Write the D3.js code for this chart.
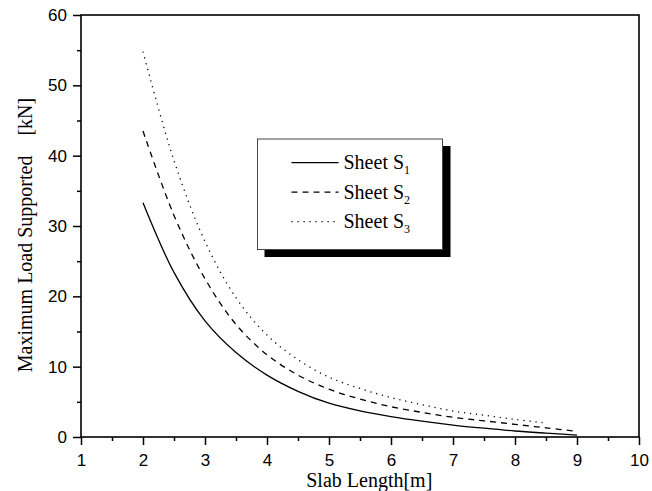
<!DOCTYPE html>
<html>
<head>
<meta charset="utf-8">
<script src="https://cdn.jsdelivr.net/npm/d3@7"></script>
<style>
  body { margin: 0; background: #fff; }
  .tick text { font-family: "Liberation Sans", Arial, sans-serif; font-size: 17px; fill: #000; }
</style>
</head>
<body>
<div class="canvas"></div>
<script>
// data
const slabLength = [2, 2.5, 3, 3.5, 4, 4.5, 5, 5.5, 6, 6.5, 7, 7.5, 8, 8.5, 9];
const sheetS1 = [33.3, 23.4, 16.5, 12.0, 8.8, 6.5, 4.8, 3.7, 2.9, 2.25, 1.7, 1.25, 0.85, 0.55, 0.28];
const sheetS2 = [43.5, 31.5, 22.5, 16.0, 11.7, 8.8, 6.8, 5.4, 4.3, 3.5, 2.8, 2.3, 1.8, 1.3, 0.8];
const sheetS3 = [54.8, 39.3, 27.8, 19.8, 14.5, 11.0, 8.5, 6.9, 5.6, 4.6, 3.7, 3.1, 2.5, 2.0];
const xTicks = [1, 2, 3, 4, 5, 6, 7, 8, 9, 10];
const yTicks = [0, 10, 20, 30, 40, 50, 60];
const seriesNames = ["Sheet S", "Sheet S", "Sheet S"];
const seriesSubs = ["1", "2", "3"];

const width = 652;
const height = 491;
const margin = { top: 15, right: 13, bottom: 54, left: 81 };
const graphWidth = width - margin.left - margin.right;
const graphHeight = height - margin.top - margin.bottom;

const svg = d3
  .select(".canvas")
  .append("svg")
  .attr("width", width)
  .attr("height", height);

const graph = svg
  .append("g")
  .attr("transform", `translate(${margin.left}, ${margin.top})`);

// scales
const x = d3.scaleLinear().domain([1, 10]).range([0, graphWidth]);
const y = d3.scaleLinear().domain([0, 60]).range([graphHeight, 0]);

// minor ticks first
graph
  .append("g")
  .attr("transform", `translate(0, ${graphHeight})`)
  .call(d3.axisBottom(x).tickValues(d3.range(1.5, 10, 1)).tickSize(4).tickFormat(""));
graph
  .append("g")
  .call(d3.axisLeft(y).tickValues(d3.range(5, 60, 10)).tickSize(4).tickFormat(""));

// major axes
const xAxisGroup = graph
  .append("g")
  .attr("class", "x-axis")
  .attr("transform", `translate(0, ${graphHeight})`)
  .call(d3.axisBottom(x).tickValues(xTicks).tickSize(8).tickPadding(9).tickFormat(d3.format("d")));
const yAxisGroup = graph
  .append("g")
  .attr("class", "y-axis")
  .call(d3.axisLeft(y).tickValues(yTicks).tickSize(8).tickPadding(6).tickFormat(d3.format("d")));

graph.selectAll(".domain").remove();
graph.selectAll(".tick line").attr("stroke", "#000").attr("stroke-width", 1.5);

// frame
graph
  .append("rect")
  .attr("width", graphWidth)
  .attr("height", graphHeight)
  .attr("fill", "none")
  .attr("stroke", "#000")
  .attr("stroke-width", 1.6);

// line generator
const line = d3
  .line()
  .curve(d3.curveCatmullRom)
  .x((d) => x(d[0]))
  .y((d) => y(d[1]));

const series = [
  { values: sheetS1, dash: null },
  { values: sheetS2, dash: "6,5" },
  { values: sheetS3, dash: "1.2,4.8" },
];

series.forEach((s) => {
  graph
    .append("path")
    .datum(s.values.map((v, i) => [slabLength[i], v]))
    .attr("fill", "none")
    .attr("stroke", "#000")
    .attr("stroke-width", 1.3)
    .attr("stroke-dasharray", s.dash)
    .attr("d", line);
});

// legend box with shadow
const legend = svg.append("g").attr("transform", "translate(257.5, 139)");
legend.append("rect").attr("x", 7).attr("y", 7).attr("width", 186).attr("height", 111).attr("fill", "#000");
legend
  .append("rect")
  .attr("width", 185)
  .attr("height", 110.5)
  .attr("fill", "#fff")
  .attr("stroke", "#444")
  .attr("stroke-width", 1);

series.forEach((s, i) => {
  const ly = 23.7 + i * 29.5;
  legend
    .append("line")
    .attr("x1", 34)
    .attr("x2", 81)
    .attr("y1", ly)
    .attr("y2", ly)
    .attr("stroke", "#000")
    .attr("stroke-width", 1.2)
    .attr("stroke-dasharray", s.dash);
  const t = legend
    .append("text")
    .attr("x", 86)
    .attr("y", ly + 6.5)
    .style("font-family", "'Liberation Serif', 'Times New Roman', serif")
    .style("font-size", "20px")
    .text(seriesNames[i]);
  t.append("tspan").attr("dy", 5).style("font-size", "12px").text(seriesSubs[i]);
});

// axis titles
svg
  .append("text")
  .attr("x", margin.left + x(5.65))
  .attr("y", 487)
  .attr("text-anchor", "middle")
  .style("font-family", "'Liberation Serif', 'Times New Roman', serif")
  .style("font-size", "20px")
  .text("Slab Length[m]");

svg
  .append("text")
  .attr("transform", "translate(32, 235) rotate(-90)")
  .attr("text-anchor", "middle")
  .style("font-family", "'Liberation Serif', 'Times New Roman', serif")
  .style("font-size", "20px")
  .style("white-space", "pre")
  .text("Maximum Load Supported    [kN]");
</script>
</body>
</html>
